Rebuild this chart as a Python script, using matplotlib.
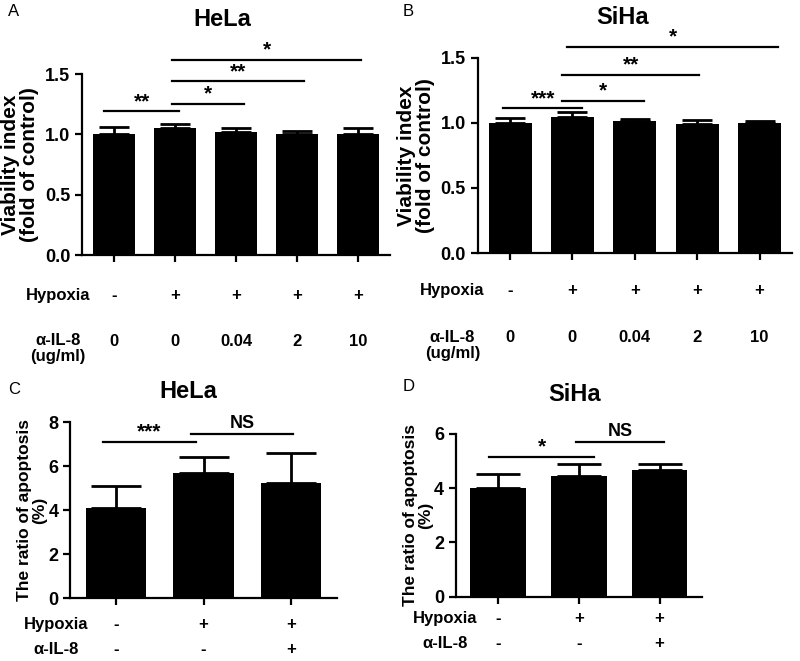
import numpy as np
import matplotlib
matplotlib.use("Agg")
import matplotlib.pyplot as plt

plt.rcParams['font.family'] = ['Liberation Sans', 'DejaVu Sans']
plt.rcParams['font.weight'] = 'bold'

# ---- data ----
hypoxia_5 = ["-", "+", "+", "+", "+"]
il8_dose = ["0", "0", "0.04", "2", "10"]

hela_via = [1.00, 1.05, 1.02, 1.00, 1.00]
hela_via_err = [0.06, 0.04, 0.03, 0.025, 0.05]
siha_via = [1.00, 1.045, 1.01, 0.99, 1.00]
siha_via_err = [0.04, 0.035, 0.015, 0.03, 0.01]

hypoxia_3 = ["-", "+", "+"]
il8_3 = ["-", "-", "+"]
hela_apo = [4.1, 5.68, 5.23]
hela_apo_err = [1.0, 0.76, 1.36]
siha_apo = [4.0, 4.44, 4.68]
siha_apo_err = [0.5, 0.43, 0.22]

# significance: (x1, x2, y, label)
sig_a = [(-0.16, 1.07, 1.19, "**"), (0.95, 2.13, 1.25, "*"),
         (0.95, 3.11, 1.44, "**"), (0.95, 4.05, 1.62, "*")]
sig_b = [(-0.11, 1.16, 1.11, "***"), (0.84, 2.14, 1.165, "*"),
         (0.84, 3.03, 1.364, "**"), (0.92, 4.29, 1.58, "*")]
sig_c = [(-0.15, 0.91, 7.12, "***"), (0.86, 2.02, 7.45, "NS")]
sig_d = [(-0.11, 1.19, 5.15, "*"), (0.97, 2.06, 5.68, "NS")]


def bar_panel(ax, vals, errs, capsize, ylim, yticks, yfmt, ylabel, ylfs, sigs, star_dy, lpad=4):
    x = np.arange(len(vals))
    ax.bar(x, vals, width=0.69, color='black', zorder=2)
    ax.errorbar(x, vals, yerr=[np.zeros(len(vals)), errs], fmt='none',
                ecolor='black', elinewidth=2, capsize=capsize, capthick=2, zorder=1)
    ax.set_ylim(*ylim)
    ax.set_yticks(yticks)
    ax.set_yticklabels([yfmt.format(t) for t in yticks], fontsize=13, fontweight='bold')
    ax.set_xticks(x)
    ax.set_xticklabels([])
    ax.set_xlim(-0.52, len(vals) - 0.48)
    for s in ['top', 'right']:
        ax.spines[s].set_visible(False)
    for s in ['left', 'bottom']:
        ax.spines[s].set_linewidth(1.6)
    ax.tick_params(width=1.6, length=5)
    ax.set_ylabel(ylabel, fontsize=ylfs, fontweight='bold', linespacing=1.0, labelpad=lpad)
    for x1, x2, y, lab in sigs:
        ax.plot([x1, x2], [y, y], color='black', lw=1.6, clip_on=False)
        if lab == "NS":
            ax.text((x1 + x2) / 2, y + star_dy * 0.6, lab, ha='center', va='bottom',
                    fontsize=13, fontweight='bold')
        else:
            ax.text((x1 + x2) / 2, y + star_dy * 0.1, lab, ha='center', va='bottom',
                    fontsize=15, fontweight='bold')


def row_labels(ax, name, labels, y, xname, fs=12, name_y=None):
    tr = ax.get_xaxis_transform()
    ax.text(xname, y if name_y is None else name_y, name, transform=ax.transAxes,
            ha='center', va='center', fontsize=fs, fontweight='bold', linespacing=1.1)
    for i, lab in enumerate(labels):
        ax.text(i, y, lab, transform=tr, ha='center', va='center',
                fontsize=fs, fontweight='bold')


fig = plt.figure(figsize=(8, 6.61), dpi=100)

ax_a = fig.add_axes([0.1025, 0.614, 0.385, 0.274])
ax_b = fig.add_axes([0.597, 0.617, 0.393, 0.296])
ax_c = fig.add_axes([0.088, 0.095, 0.333, 0.266])
ax_d = fig.add_axes([0.570, 0.097, 0.307, 0.247])

bar_panel(ax_a, hela_via, hela_via_err, 11, (0, 1.5), [0, 0.5, 1.0, 1.5], "{:.1f}",
          "Viability index\n(fold of control)", 15, sig_a, 0.03)
bar_panel(ax_b, siha_via, siha_via_err, 11, (0, 1.5), [0, 0.5, 1.0, 1.5], "{:.1f}",
          "Viability index\n(fold of control)", 15, sig_b, 0.03)
bar_panel(ax_c, hela_apo, hela_apo_err, 18, (0, 8), [0, 2, 4, 6, 8], "{:.0f}",
          "The ratio of apoptosis\n(%)", 12.5, sig_c, 0.15, lpad=1)
bar_panel(ax_d, siha_apo, siha_apo_err, 16, (0, 6), [0, 2, 4, 6], "{:.0f}",
          "The ratio of apoptosis\n(%)", 12.5, sig_d, 0.12, lpad=1)

row_labels(ax_a, "Hypoxia", hypoxia_5, -0.221, -0.078)
row_labels(ax_a, "α-IL-8\n(ug/ml)", il8_dose, -0.475, -0.078, name_y=-0.515)
row_labels(ax_b, "Hypoxia", hypoxia_5, -0.189, -0.08)
row_labels(ax_b, "α-IL-8\n(ug/ml)", il8_dose, -0.43, -0.08, name_y=-0.47)
row_labels(ax_c, "Hypoxia", hypoxia_3, -0.152, -0.052)
row_labels(ax_c, "α-IL-8", il8_3, -0.294, -0.052)
row_labels(ax_d, "Hypoxia", hypoxia_3, -0.13, -0.043)
row_labels(ax_d, "α-IL-8", il8_3, -0.283, -0.043)

# panel titles
for lab, (px, py) in zip(["HeLa", "SiHa", "HeLa", "SiHa"],
                         [(222, 20), (623, 17), (188, 392), (575, 395)]):
    fig.text(px / 800, 1 - py / 661, lab, fontsize=17, fontweight='bold',
             ha='center', va='center')

# panel letters
for lab, (px, py) in zip("ABCD", [(8, 12), (403, 12), (8, 390), (403, 387)]):
    fig.text(px / 800, 1 - py / 661, lab, fontsize=12, fontweight='normal',
             ha='left', va='center')

fig.savefig("out.png", dpi=100)
